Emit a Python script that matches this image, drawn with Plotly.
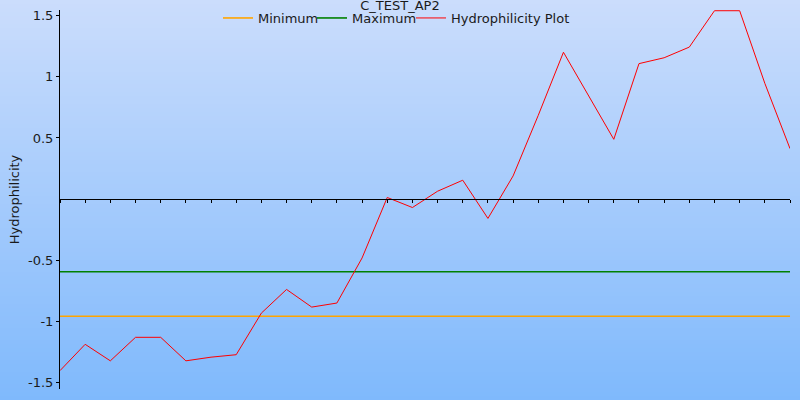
import plotly.graph_objects as go

# ---- data ----
title_text = "C_TEST_AP2"
positions = list(range(30))
hydrophilicity = [-1.40, -1.185, -1.32, -1.128, -1.128, -1.32, -1.29, -1.27,
                  -0.93, -0.737, -0.881, -0.848, -0.48, 0.014, -0.068, 0.065,
                  0.155, -0.157, 0.19, 0.685, 1.20, 0.84, 0.489, 1.107,
                  1.155, 1.242, 1.539, 1.539, 0.946, 0.413]
minimum_value = -0.956
maximum_value = -0.593
y_tick_values = [-1.5, -1.0, -0.5, 0.5, 1.0, 1.5]
y_tick_labels = ["-1.5", "-1", "-0.5", "0.5", "1", "1.5"]

# ---- layout constants ----
W, H = 800, 400
ML, MR, MT, MB = 60, 10, 10, 11
YMIN, YMAX = -1.55, 1.545
FONT = "DejaVu Sans, Verdana, sans-serif"
TXT = "#1a1a1a"
PW = W - ML - MR
PH = H - MT - MB

fig = go.Figure()

x_span = [positions[0], positions[-1]]
fig.add_trace(go.Scatter(x=x_span, y=[minimum_value, minimum_value], mode="lines",
                         name="Minimum", legend="legend",
                         line=dict(color="#ffa500", width=1.6)))
fig.add_trace(go.Scatter(x=x_span, y=[maximum_value, maximum_value], mode="lines",
                         name="Maximum", legend="legend2",
                         line=dict(color="#008000", width=1.6)))
fig.add_trace(go.Scatter(x=positions, y=hydrophilicity, mode="lines",
                         name="Hydrophilicity Plot", legend="legend3",
                         line=dict(color="#ff0000", width=1)))

# gradient background via strips
top_c = (203, 221, 252)
bot_c = (127, 185, 252)
n = 100
shapes = []
for i in range(n):
    py0 = i * H / n
    py1 = (i + 1) * H / n + 0.5
    t = (i + 0.5) / n
    c = tuple(round(top_c[k] + (bot_c[k] - top_c[k]) * t) for k in range(3))
    shapes.append(dict(type="rect", xref="paper", yref="paper", layer="below",
                       x0=-ML / PW - 0.01, x1=1 + MR / PW + 0.01,
                       y0=(H - MB - py1) / PH, y1=(H - MB - py0) / PH,
                       fillcolor="rgb(%d,%d,%d)" % c, line=dict(width=0)))

zero_pos = (0 - YMIN) / (YMAX - YMIN)


def legend_at(px):
    return dict(orientation="h", x=(px - ML) / PW, y=(H - MB - 18) / PH,
                xanchor="left", yanchor="middle", bgcolor="rgba(0,0,0,0)",
                font=dict(size=13, color=TXT), itemwidth=30)


fig.update_layout(
    width=W, height=H,
    margin=dict(l=ML, r=MR, t=MT, b=MB, autoexpand=False),
    paper_bgcolor="rgb(165,203,252)",
    plot_bgcolor="rgba(0,0,0,0)",
    shapes=shapes,
    font=dict(family=FONT, size=13, color=TXT),
    title=dict(text=title_text, x=0.5, xref="container", y=0.986, yref="container",
               yanchor="middle", xanchor="center", automargin=False,
               font=dict(size=13, color=TXT)),
    legend=legend_at(258 - 40),
    legend2=legend_at(352 - 40),
    legend3=legend_at(451 - 40),
    showlegend=True,
    xaxis=dict(range=x_span, showgrid=False, zeroline=False, showline=True,
               linecolor="black", linewidth=1, ticks="outside", ticklen=3,
               tickwidth=1, tickcolor="black", tick0=0, dtick=1, automargin=False,
               showticklabels=False, anchor="free", position=zero_pos),
    xaxis2=dict(range=x_span, overlaying="x", side="top", showgrid=False,
                zeroline=False, showline=False, ticks="outside", ticklen=3,
                tickwidth=1, tickcolor="black", tick0=0, dtick=1, automargin=False,
                showticklabels=False, anchor="free", position=zero_pos),
    yaxis=dict(range=[YMIN, YMAX], showgrid=False, zeroline=False, showline=True,
               linecolor="black", linewidth=1, ticks="outside", ticklen=3,
               tickwidth=1, tickcolor="black", tickvals=y_tick_values, automargin=False,
               ticktext=y_tick_labels, tickfont=dict(size=13, color=TXT),
               title=dict(text="Hydrophilicity", standoff=5,
                          font=dict(size=13, color=TXT))),
    yaxis2=dict(range=[YMIN, YMAX], overlaying="y", side="left", showgrid=False,
                zeroline=False, showline=False, ticks="inside", ticklen=3,
                tickwidth=1, tickcolor="black", tickvals=y_tick_values,
                showticklabels=False, anchor="x", automargin=False),
)

fig.write_html(
    "out.html",
    config={"displayModeBar": False},
    post_script="document.body.style.margin='0';document.body.style.padding='0';",
)
